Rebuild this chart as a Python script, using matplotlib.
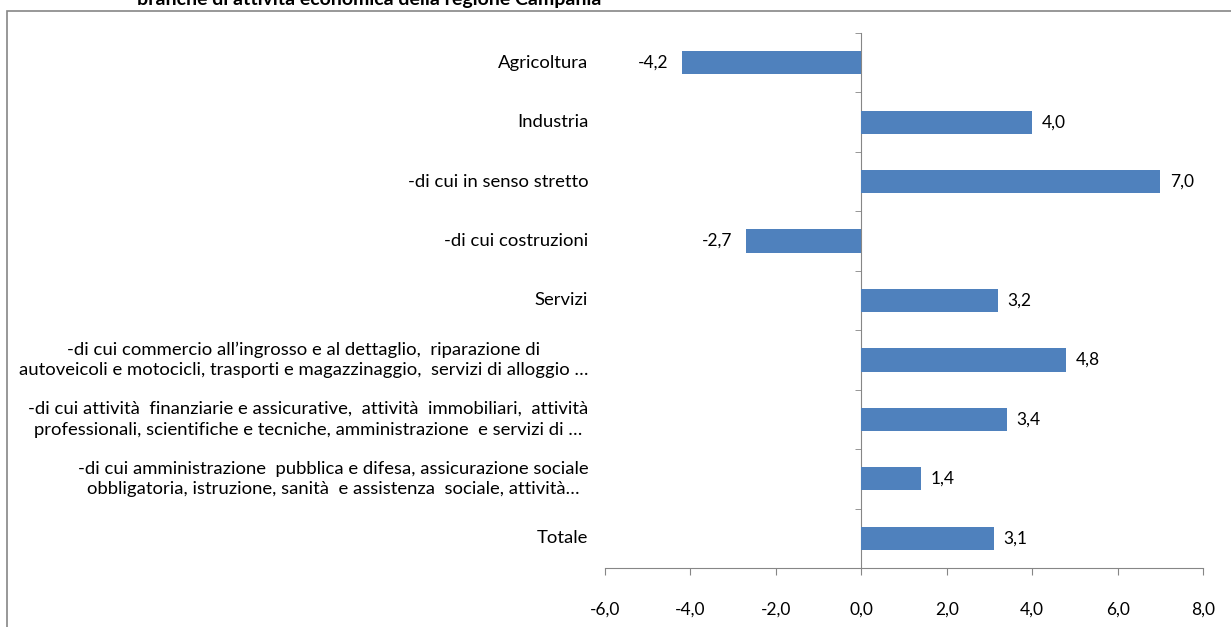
import matplotlib
matplotlib.use("Agg")
import matplotlib.pyplot as plt
from matplotlib.patches import Rectangle
from matplotlib.ticker import FuncFormatter, FixedLocator
import numpy as np

categories = [
    "Agricoltura",
    "Industria",
    "-di cui in senso stretto",
    "-di cui costruzioni",
    "Servizi",
    "-di cui commercio all\u2019ingrosso e al dettaglio,  riparazione di\nautoveicoli e motocicli, trasporti e magazzinaggio,  servizi di alloggio \u2026",
    "-di cui attivit\u00e0  finanziarie e assicurative,  attivit\u00e0  immobiliari,  attivit\u00e0\nprofessionali, scientifiche e tecniche, amministrazione  e servizi di \u2026",
    "-di cui amministrazione  pubblica e difesa, assicurazione sociale\nobbligatoria, istruzione, sanit\u00e0  e assistenza  sociale, attivit\u00e0\u2026",
    "Totale",
]
values = [-4.2, 4.0, 7.0, -2.7, 3.2, 4.8, 3.4, 1.4, 3.1]
xticks = [-6, -4, -2, 0, 2, 4, 6, 8]
title = "branche di attivit\u00e0 economica della regione Campania"

plt.rcParams['font.family'] = ['Lato', 'DejaVu Sans']

W, H = 1231, 627
fig = plt.figure(figsize=(W / 100, H / 100), dpi=100)
ax = fig.add_axes([605 / W, 1 - 568 / H, (1203 - 605) / W, (568 - 33) / H])

n = len(categories)
ypos = np.arange(n)
ax.barh(ypos, values, height=0.39, color="#4F81BD", zorder=3)
ax.set_ylim(n - 0.5, -0.5)
ax.set_xlim(xticks[0], xticks[-1])

grey = "#868686"
for s in ["top", "right"]:
    ax.spines[s].set_visible(False)
ax.spines["left"].set_position(("data", 0))
ax.spines["left"].set_color(grey)
ax.spines["bottom"].set_color(grey)

ax.set_yticks(ypos)
ax.set_yticklabels([])
ax.tick_params(axis="y", which="major", length=0)
ax.yaxis.set_minor_locator(FixedLocator(np.arange(n + 1) - 0.5))
ax.tick_params(axis="y", which="minor", length=4, color=grey, direction="out")

ax.xaxis.set_major_locator(FixedLocator(xticks))
ax.xaxis.set_major_formatter(FuncFormatter(lambda v, p: f"{v:.1f}".replace(".", ",")))
ax.tick_params(axis="x", length=5, color=grey, pad=19, labelsize=12.5)

trans = matplotlib.transforms.blended_transform_factory(ax.transAxes, ax.transData)
for y, lab in zip(ypos, categories):
    ax.text(-0.028, y, lab, transform=trans, ha="right", va="center",
            multialignment="center", fontsize=13.3, linespacing=1.35)

for y, v in zip(ypos, values):
    lbl = f"{v:.1f}".replace(".", ",")
    if v >= 0:
        ax.annotate(lbl, (v, y), xytext=(7, 0), textcoords="offset points",
                    ha="left", va="center", fontsize=12.5)
    else:
        ax.annotate(lbl, (v, y), xytext=(-10, 0), textcoords="offset points",
                    ha="right", va="center", fontsize=12.5)

fig.add_artist(Rectangle((7 / W, -0.1), 1.2, 1 - 11 / H + 0.1, transform=fig.transFigure,
                         fill=False, edgecolor=grey, linewidth=1.2))
fig.text(137 / W, 1.0, title, ha="left", va="center", fontsize=14, fontweight="bold")

fig.savefig("out.png", dpi=100)
